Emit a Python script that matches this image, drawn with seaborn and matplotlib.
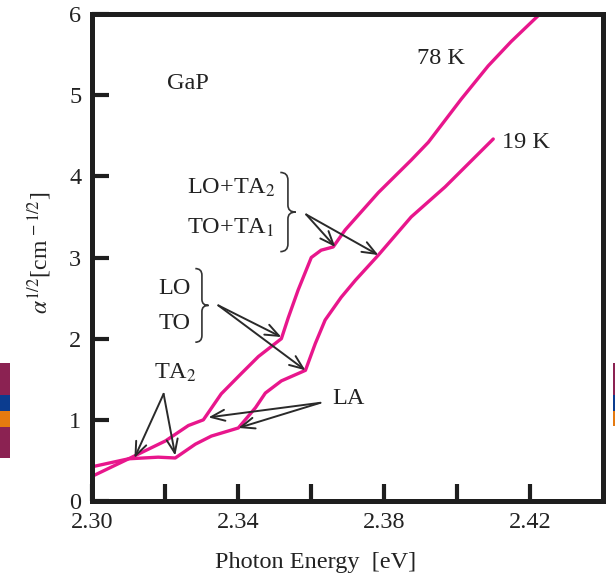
import numpy as np
import pandas as pd
import matplotlib
matplotlib.use("Agg")
import matplotlib.pyplot as plt
import matplotlib.transforms as mtransforms
from matplotlib.path import Path
from matplotlib.patches import PathPatch, Rectangle
import seaborn as sns

# Absorption edge of GaP: sqrt(alpha) versus photon energy at two temperatures
energy_78K = [2.2997, 2.3099, 2.3200, 2.3263, 2.3304, 2.3353, 2.3408, 2.3455,
              2.3518, 2.3537, 2.3564, 2.3600, 2.3627, 2.3660, 2.3693, 2.3784,
              2.3874, 2.3921, 2.4011, 2.4085, 2.4148, 2.4227]
alpha_78K = [0.30, 0.52, 0.74, 0.93, 1.00, 1.32, 1.57, 1.78,
             2.00, 2.26, 2.60, 3.00, 3.09, 3.13, 3.34, 3.80,
             4.20, 4.42, 4.95, 5.36, 5.66, 6.00]

energy_19K = [2.2997, 2.3099, 2.3180, 2.3227, 2.3282, 2.3326, 2.3400, 2.3447,
              2.3474, 2.3518, 2.3584, 2.3611, 2.3638, 2.3682, 2.3721, 2.3784,
              2.3874, 2.3967, 2.4099]
alpha_19K = [0.42, 0.52, 0.54, 0.53, 0.70, 0.80, 0.90, 1.15,
             1.33, 1.48, 1.61, 1.94, 2.23, 2.51, 2.72, 3.03,
             3.50, 3.87, 4.46]

curve_names = ["78 K", "19 K"]
x_ticks = [2.30, 2.32, 2.34, 2.36, 2.38, 2.40, 2.42]
x_tick_labels = ["2.30", "", "2.34", "", "2.38", "", "2.42"]
y_ticks = [0, 1, 2, 3, 4, 5, 6]

PINK = "#E8168C"
INK = "#222222"
FS = 17.5

sns.set_theme(style="white")
plt.rcParams["font.family"] = ["Liberation Serif", "DejaVu Serif"]
plt.rcParams["mathtext.fontset"] = "stix"

fig = plt.figure(figsize=(6.15, 5.76), dpi=100)
ax = fig.add_axes([0.1504, 0.1302, 0.9805 - 0.1504, 0.9757 - 0.1302])

df = pd.concat([
    pd.DataFrame({"energy": energy_78K, "alpha": alpha_78K, "T": curve_names[0]}),
    pd.DataFrame({"energy": energy_19K, "alpha": alpha_19K, "T": curve_names[1]}),
])
sns.lineplot(data=df, x="energy", y="alpha", hue="T",
             palette={n: PINK for n in curve_names}, estimator=None,
             sort=False, lw=2.4, legend=False, ax=ax)

ax.set_xlim(2.30, 2.44)
ax.set_ylim(0, 6)
ax.set_xticks(x_ticks)
ax.set_xticklabels(x_tick_labels)
ax.set_yticks(y_ticks)
ax.tick_params(direction="in", length=12, width=3, color="#1e1e1e",
               labelsize=FS, labelcolor=INK, pad=8,
               bottom=True, left=True, top=False, right=False)
for s in ax.spines.values():
    s.set_visible(True)
    s.set_linewidth(3.6)
    s.set_color("#1e1e1e")

ax.set_xlabel("Photon Energy  [eV]", fontsize=FS, color=INK, va="center")
ax.xaxis.set_label_coords(0.436, -0.127)
ax.set_ylabel(r"$\alpha^{1/2}$[cm$^{\,-1/2}$]", fontsize=FS - 0.5,
              color=INK, va="center")
ax.yaxis.set_label_coords(-0.103, 0.509)

# Curve and phonon labels
ax.text(2.3263, 5.14, "GaP", fontsize=FS, color=INK, ha="center", va="center")
ax.text(2.3956, 5.45, "78 K", fontsize=FS, color=INK, ha="center", va="center")
ax.text(2.4189, 4.42, "19 K", fontsize=FS, color=INK, ha="center", va="center")
ax.text(2.3260, 3.86, r"LO+TA$_2$", fontsize=FS, color=INK, ha="left", va="center")
ax.text(2.3260, 3.37, r"TO+TA$_1$", fontsize=FS, color=INK, ha="left", va="center")
ax.text(2.3181, 2.62, "LO", fontsize=FS, color=INK, ha="left", va="center")
ax.text(2.3181, 2.19, "TO", fontsize=FS, color=INK, ha="left", va="center")
ax.text(2.3227, 1.58, r"TA$_2$", fontsize=FS, color=INK, ha="center", va="center")
ax.text(2.3701, 1.26, "LA", fontsize=FS, color=INK, ha="center", va="center")

arrow_kw = dict(arrowstyle="->,head_length=0.55,head_width=0.22", lw=1.4,
                color="#2a2a2a", shrinkA=0, shrinkB=0, mutation_scale=18)


def arrows(tail, tips):
    for tip in tips:
        ax.annotate("", xy=tip, xytext=tail, arrowprops=arrow_kw)


arrows((2.3195, 1.32), [(2.3115, 0.53), (2.3227, 0.56)])
arrows((2.3625, 1.21), [(2.3318, 1.03), (2.3400, 0.90)])
arrows((2.3345, 2.41), [(2.3518, 2.02), (2.3584, 1.61)])
arrows((2.3586, 3.53), [(2.3666, 3.13), (2.3784, 3.03)])


def brace(x, y, half_h, width):
    """Right-pointing curly brace; size given in points, anchored at data (x, y)."""
    w, h, c = width, half_h, width * 0.5
    verts = [(0, h), (c, h), (c, h - c),
             (c, c * 0.9), (c, 0), (w, 0),
             (c, 0), (c, -c * 0.9),
             (c, -h + c), (c, -h), (0, -h)]
    codes = [Path.MOVETO, Path.CURVE3, Path.CURVE3,
             Path.LINETO, Path.CURVE3, Path.CURVE3,
             Path.CURVE3, Path.CURVE3,
             Path.LINETO, Path.CURVE3, Path.CURVE3]
    tr = (mtransforms.Affine2D().scale(fig.dpi / 72.0)
          + mtransforms.ScaledTranslation(x, y, ax.transData))
    ax.add_patch(PathPatch(Path(verts, codes), transform=tr, fill=False,
                           lw=1.2, edgecolor="#333333", clip_on=False))


brace(2.3282, 2.41, 26.5, 9.5)
brace(2.3515, 3.56, 28.5, 11.0)

# Edge colour strips
strips = [
    (0.0, 10, 363, 395, "#8B2252"), (0.0, 10, 395, 411, "#0B3C8F"),
    (0.0, 10, 411, 427, "#E57A10"), (0.0, 10, 427, 458, "#8B2252"),
    (613, 2, 363, 395, "#8B2252"), (613, 2, 395, 411, "#0B3C8F"),
    (613, 2, 411, 426, "#E57A10"),
]
for x0, w, y0, y1, col in strips:
    fig.add_artist(Rectangle((x0 / 615, 1 - y1 / 576), w / 615, (y1 - y0) / 576,
                             transform=fig.transFigure, color=col, lw=0))

fig.savefig("out.png", dpi=100)
